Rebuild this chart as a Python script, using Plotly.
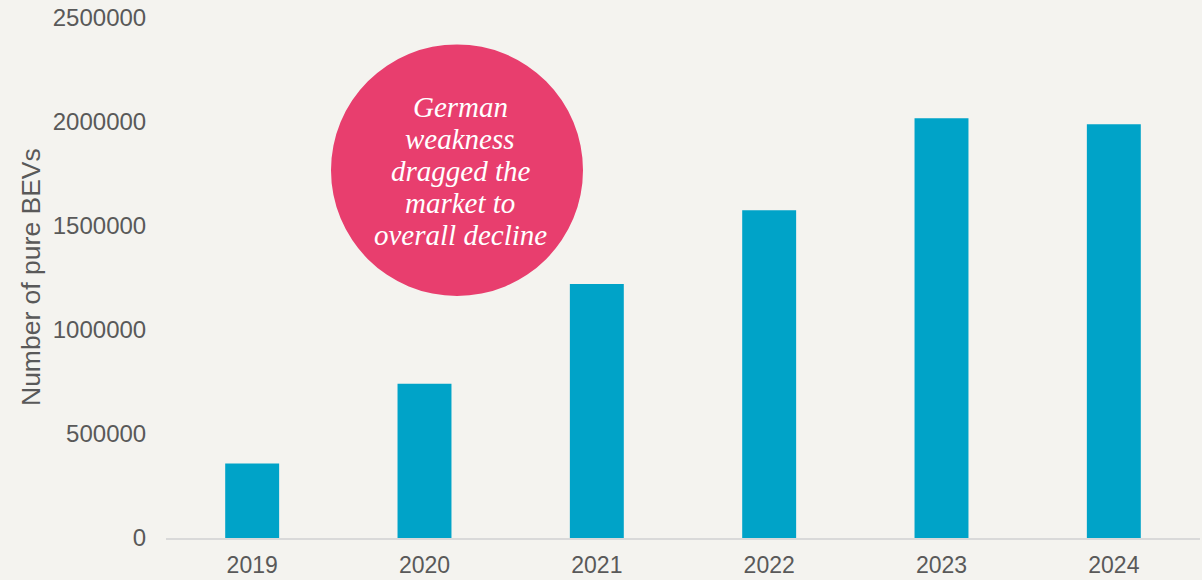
import plotly.graph_objects as go

years = ["2019", "2020", "2021", "2022", "2023", "2024"]
bev_counts = [358000, 742000, 1221000, 1576000, 2018000, 1989000]
y_ticks = [0, 500000, 1000000, 1500000, 2000000, 2500000]
y_title = "Number of pure BEVs"
callout_lines = ["German", "weakness", "dragged the", "market to", "overall decline"]

W, H = 1202, 580
ML, MR, MT, MB = 166, 2, 17.5, 41.5
PW, PH = W - ML - MR, H - MT - MB

def px_x(p):
    return (p - ML) / PW

def px_y(p):
    return (H - MB - p) / PH

BG = "#F4F3EF"
BAR = "#00A3C8"
PINK = "#E83E6E"
GREY = "#595959"

fig = go.Figure()
fig.add_trace(go.Bar(x=years, y=bev_counts, marker=dict(color=BAR, line=dict(width=0)),
                     hoverinfo="x+y"))

fig.update_layout(
    width=W, height=H,
    margin=dict(l=ML, r=MR, t=MT, b=MB, autoexpand=False),
    paper_bgcolor=BG, plot_bgcolor=BG,
    bargap=0.687,
    showlegend=False,
    font=dict(family="Liberation Sans, Arial, sans-serif", color=GREY, size=24),
)
fig.update_xaxes(
    type="category", automargin=False,
    showline=True, linecolor="#D9D9D9", linewidth=2,
    showgrid=False, zeroline=False,
    ticks="outside", ticklen=5, tickcolor="rgba(0,0,0,0)",
    tickfont=dict(size=23, color=GREY),
)
fig.update_yaxes(
    range=[0, 2500000], automargin=False,
    tickvals=y_ticks, ticktext=[str(v) for v in y_ticks],
    showline=False, showgrid=False, zeroline=False,
    ticks="outside", ticklen=14, tickcolor="rgba(0,0,0,0)",
    tickfont=dict(size=24, color=GREY),
)

# callout circle
cx, cy, r = 457, 170, 126
fig.add_shape(type="circle", xref="paper", yref="paper",
              x0=px_x(cx - r), x1=px_x(cx + r), y0=px_y(cy + r), y1=px_y(cy - r),
              fillcolor=PINK, line=dict(width=0), layer="above")

# callout text, one line per annotation for tight line spacing
baselines = [116, 148, 180, 212, 244]
for line, base in zip(callout_lines, baselines):
    fig.add_annotation(
        xref="paper", yref="paper", x=px_x(460), y=px_y(base - 9),
        text=line, showarrow=False,
        font=dict(family="Liberation Serif, Georgia, serif", size=29, color="white", style="italic"),
        align="center", xanchor="center", yanchor="middle",
    )

# y-axis title
fig.add_annotation(
    xref="paper", yref="paper", x=px_x(31), y=px_y(277),
    text=y_title, showarrow=False, textangle=-90,
    font=dict(size=26.5, color=GREY), xanchor="center", yanchor="middle",
)

post = (
    "document.documentElement.style.margin='0';"
    "document.body.style.margin='0';"
    "document.body.style.padding='0';"
    "document.body.style.overflow='hidden';"
    "document.documentElement.style.overflow='hidden';"
    "document.body.style.background='%s';" % BG
)
fig.write_html("out.html", post_script=post, config={"displayModeBar": False})
